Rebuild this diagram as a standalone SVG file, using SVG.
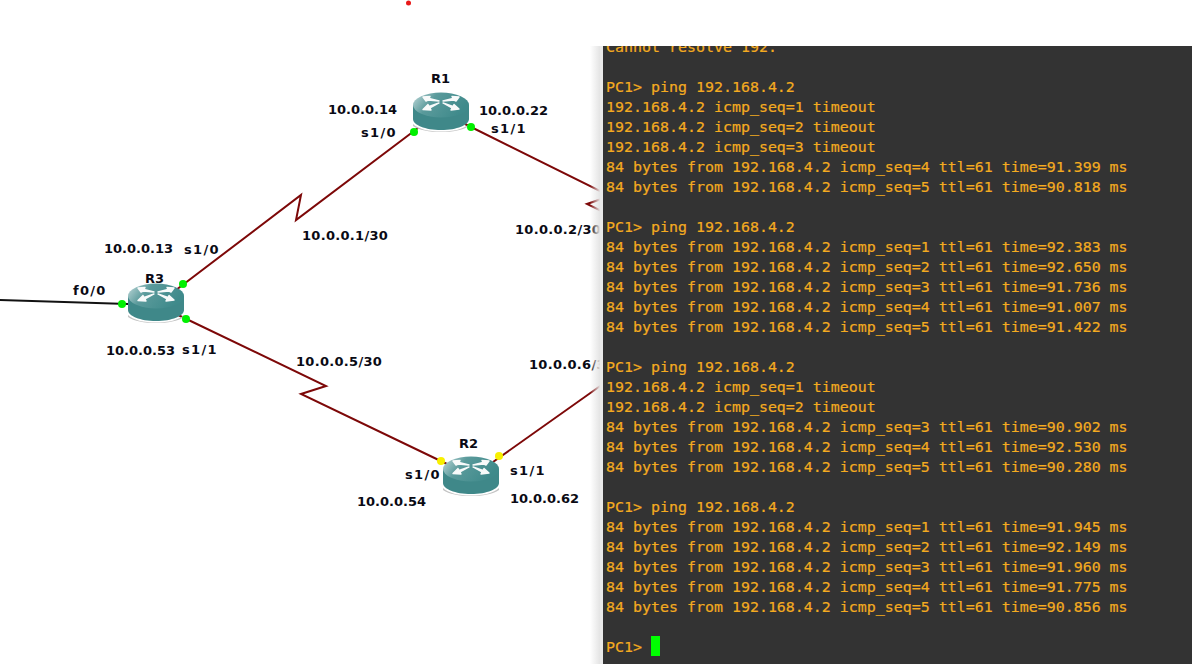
<svg xmlns="http://www.w3.org/2000/svg" width="1192" height="664" viewBox="0 0 1192 664">
<style>
.lb{font-family:"DejaVu Sans",sans-serif;font-weight:700;font-size:13px;fill:#0a0a14}
.sl{letter-spacing:1.3px}
.wd{letter-spacing:.3px}
.t{font-family:"DejaVu Sans Mono","Liberation Mono",monospace;font-size:14.95px;fill:#f4ab20;stroke:#f4ab20;stroke-width:.2}
.ln{fill:none;stroke:#7d0808;stroke-width:2}
.gr{fill:#00f000}.ye{fill:#f8f000}
</style>
<defs>
<linearGradient id="sh" x1="0" x2="1" y1="0" y2="0"><stop offset="0" stop-color="#e4e4e4" stop-opacity="0"/><stop offset="1" stop-color="#e4e4e4"/></linearGradient>
<linearGradient id="top" x1="0" x2="1" y1="0" y2="0.35"><stop offset="0" stop-color="#c2dadb"/><stop offset="0.4" stop-color="#5a9a9b"/><stop offset="1" stop-color="#3f8a8b"/></linearGradient>
<g id="router">
<path d="M0 31C5 36 16 38.500 28 38.500S51 36 56 31V33C50 37 40 39 28 39S6 37 0 33Z" fill="#c4c4c4"/>
<path d="M0 12V26C0 32 12 37 28 37S56 32 56 26V12Z" fill="#3f8889"/>
<ellipse cx="28" cy="12" rx="28" ry="12.500" fill="url(#top)"/>
<g fill="#f8fafa" stroke="#f8fafa" stroke-width="1.400" stroke-linejoin="round">
<path d="M26 8L16 5.500 17 3.500 10 4 13 8 15 7Z"/>
<path d="M30 8L40 5.500 39 3.500 46 4 43 8 41 7Z"/>
<path d="M26 10L16 13.500 15 11.500 10 16.500 18 17 17 15Z"/>
<path d="M30 10L40 13.500 41 11.500 46 16 38 17 39 15Z"/>
</g>
</g>
</defs>
<rect width="1192" height="664" fill="#fff"/>
<circle cx="408.500" cy="3" r="2.500" fill="#e81818"/>
<g id="connectors">
<path class="ln" d="M0 300L128 304" style="stroke:#111"/>
<path class="ln" d="M176 290L301 195L296 220L418 128"/>
<path class="ln" d="M176 314L326 386L301 394L447 464"/>
<path class="ln" d="M465 124L612 197L613 195L587 204L620 220"/>
<path class="ln" d="M493 462L620 372"/>
</g>
<g id="R1"><use href="#router" x="413" y="93"/><text class="lb" x="431" y="83">R1</text><text class="lb" x="328" y="114">10.0.0.14</text><text class="lb sl" x="361" y="137">s1/0</text><text class="lb" x="479" y="115">10.0.0.22</text><text class="lb sl" x="491" y="133">s1/1</text><circle class="gr" cx="414" cy="132" r="4"/><circle class="gr" cx="471" cy="127" r="4"/></g>
<g id="R3"><use href="#router" x="128" y="284"/><text class="lb" x="145" y="283">R3</text><text class="lb" x="104" y="253">10.0.0.13</text><text class="lb sl" x="184" y="254">s1/0</text><text class="lb sl" x="73" y="295">f0/0</text><text class="lb" x="106" y="355">10.0.0.53</text><text class="lb sl" x="182" y="354">s1/1</text><circle class="gr" cx="122" cy="304" r="4"/><circle class="gr" cx="183" cy="284" r="4"/><circle class="gr" cx="186" cy="319" r="4"/></g>
<g id="R2"><use href="#router" x="443" y="457"/><text class="lb" x="459" y="448">R2</text><text class="lb sl" x="405" y="479">s1/0</text><text class="lb" x="357" y="506">10.0.0.54</text><text class="lb sl" x="510" y="475">s1/1</text><text class="lb" x="510" y="503">10.0.0.62</text><circle class="ye" cx="441" cy="461" r="4"/><circle class="ye" cx="499" cy="456" r="4"/></g>
<g id="links"><text class="lb wd" x="302" y="240">10.0.0.1/30</text><text class="lb wd" x="515" y="234">10.0.0.2/30</text><text class="lb wd" x="296" y="366">10.0.0.5/30</text><text class="lb wd" x="529" y="369">10.0.0.6/30</text></g>
<rect x="590" y="46" width="10" height="618" fill="url(#sh)"/>
<rect x="600" y="46" width="3" height="618" fill="#eaeaea"/>
<rect x="603" y="46" width="589" height="618" fill="#333"/>
<rect x="603" y="0" width="589" height="46" fill="#fff"/>
<g id="terminal">
<svg x="603" y="46" width="589" height="618" viewBox="603 46 589 618">
<text class="t" x="606" y="52">Cannot resolve 192.</text>
<text class="t" x="606" y="92">PC1&gt; ping 192.168.4.2</text>
<text class="t" x="606" y="112">192.168.4.2 icmp_seq=1 timeout</text>
<text class="t" x="606" y="132">192.168.4.2 icmp_seq=2 timeout</text>
<text class="t" x="606" y="152">192.168.4.2 icmp_seq=3 timeout</text>
<text class="t" x="606" y="172">84 bytes from 192.168.4.2 icmp_seq=4 ttl=61 time=91.399 ms</text>
<text class="t" x="606" y="192">84 bytes from 192.168.4.2 icmp_seq=5 ttl=61 time=90.818 ms</text>
<text class="t" x="606" y="232">PC1&gt; ping 192.168.4.2</text>
<text class="t" x="606" y="252">84 bytes from 192.168.4.2 icmp_seq=1 ttl=61 time=92.383 ms</text>
<text class="t" x="606" y="272">84 bytes from 192.168.4.2 icmp_seq=2 ttl=61 time=92.650 ms</text>
<text class="t" x="606" y="292">84 bytes from 192.168.4.2 icmp_seq=3 ttl=61 time=91.736 ms</text>
<text class="t" x="606" y="312">84 bytes from 192.168.4.2 icmp_seq=4 ttl=61 time=91.007 ms</text>
<text class="t" x="606" y="332">84 bytes from 192.168.4.2 icmp_seq=5 ttl=61 time=91.422 ms</text>
<text class="t" x="606" y="372">PC1&gt; ping 192.168.4.2</text>
<text class="t" x="606" y="392">192.168.4.2 icmp_seq=1 timeout</text>
<text class="t" x="606" y="412">192.168.4.2 icmp_seq=2 timeout</text>
<text class="t" x="606" y="432">84 bytes from 192.168.4.2 icmp_seq=3 ttl=61 time=90.902 ms</text>
<text class="t" x="606" y="452">84 bytes from 192.168.4.2 icmp_seq=4 ttl=61 time=92.530 ms</text>
<text class="t" x="606" y="472">84 bytes from 192.168.4.2 icmp_seq=5 ttl=61 time=90.280 ms</text>
<text class="t" x="606" y="512">PC1&gt; ping 192.168.4.2</text>
<text class="t" x="606" y="532">84 bytes from 192.168.4.2 icmp_seq=1 ttl=61 time=91.945 ms</text>
<text class="t" x="606" y="552">84 bytes from 192.168.4.2 icmp_seq=2 ttl=61 time=92.149 ms</text>
<text class="t" x="606" y="572">84 bytes from 192.168.4.2 icmp_seq=3 ttl=61 time=91.960 ms</text>
<text class="t" x="606" y="592">84 bytes from 192.168.4.2 icmp_seq=4 ttl=61 time=91.775 ms</text>
<text class="t" x="606" y="612">84 bytes from 192.168.4.2 icmp_seq=5 ttl=61 time=90.856 ms</text>
<text class="t" x="606" y="652">PC1&gt;</text>
<rect x="651" y="636" width="9" height="20" fill="#00ff00"/>
</svg>
</g>
</svg>
